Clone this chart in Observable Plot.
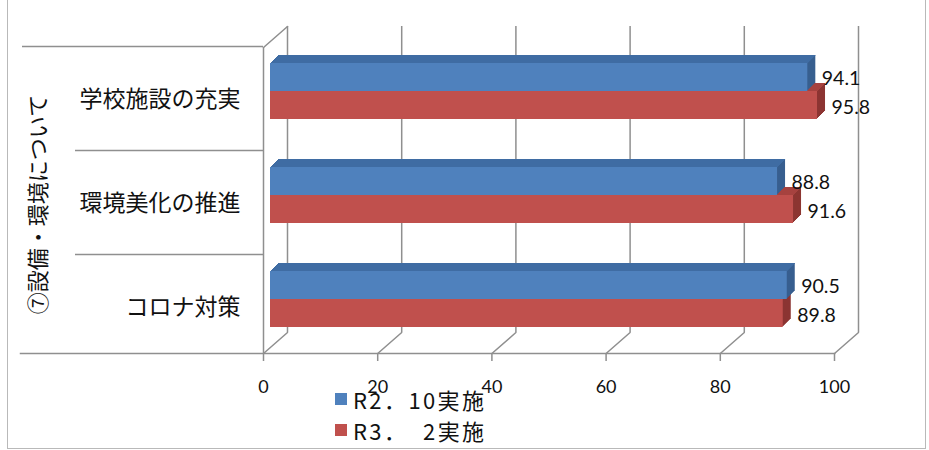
<!DOCTYPE html>
<html><head><meta charset="utf-8">
<script src="https://cdn.jsdelivr.net/npm/d3@7"></script>
<script src="https://cdn.jsdelivr.net/npm/@observablehq/plot@0.6"></script>
<style>
body{margin:0;background:#fff;}
#wrap{position:relative;width:929px;height:450px;overflow:hidden;}
#border{position:absolute;left:7px;top:-3px;width:919px;height:452px;border:1.5px solid #b9b9b9;border-top:none;box-sizing:border-box;pointer-events:none;}
#legend{position:absolute;left:335px;top:383px;font-family:"Noto Sans CJK JP";font-size:22px;color:#111;letter-spacing:2.4px;}
.row{display:flex;align-items:center;height:31px;white-space:pre;}
.sw{width:12px;height:12px;margin-right:6px;flex:none;}
</style></head>
<body><div id="wrap"><div id="chart"></div><div id="border"></div><div id="legend"></div></div>
<script>
const categories = ["学校施設の充実", "環境美化の推進", "コロナ対策"];
const seriesNames = ["R2．10実施", "R3．  2実施"];
const r2Values = [94.1, 88.8, 90.5];
const r3Values = [95.8, 91.6, 89.8];
const xTicks = [0, 20, 40, 60, 80, 100];
const axisTitle = "⑦設備・環境について";

const colors = {
  blue: {front: "#4f81bd", top: "#3f6ca3", side: "#385f8f"},
  red: {front: "#c0504d", top: "#a6423f", side: "#8c3532"}
};
const gridColor = "#8f8f8f";
const depth = 8;
const barShift = 7;
const band = 104;

const blueRows = categories.map((c, i) => ({cat: c, value: r2Values[i]}));
const redRows = categories.map((c, i) => ({cat: c, value: r3Values[i]}));

function box(rows, col, insetTop, insetBottom) {
  const marks = [];
  for (let k = depth; k >= 1; k--) {
    marks.push(Plot.barX(rows, {x: "value", y: "cat", fill: col.side, insetTop, insetBottom, dx: barShift + k, dy: -k}));
  }
  for (let k = 1; k <= depth; k++) {
    marks.push(Plot.barX(rows, {x: "value", y: "cat", fill: col.top, insetTop, insetBottom: band - insetTop - 1, dx: barShift + k, dy: -k}));
  }
  marks.push(Plot.barX(rows, {x: "value", y: "cat", fill: col.front, insetTop, insetBottom, dx: barShift}));
  return marks;
}

const lineShape = {draw(context, l) { context.moveTo(0, 0); context.lineTo(0, -l); }};
const diag = {length: Math.hypot(24, 21), rotate: Math.atan2(24, 21) * 180 / Math.PI, anchor: "start", shape: lineShape, stroke: gridColor, strokeWidth: 1.5, fill: "none"};

const chart = Plot.plot({
  width: 929, height: 450,
  marginLeft: 20, marginRight: 95, marginTop: 47, marginBottom: 97,
  x: {domain: [0, 100], range: [263, 834]},
  y: {type: "band", domain: categories, range: [45, 357], padding: 0, axis: null},
  style: {background: "transparent", overflow: "visible"},
  marks: [
    // back wall gridlines
    Plot.ruleX(xTicks, {x: d => d, stroke: gridColor, strokeWidth: 1.5, dx: 24, dy: -21}),
    // floor diagonals
    Plot.vector(xTicks, {x: d => d, frameAnchor: "bottom", ...diag}),
    Plot.vector([0], {x: d => d, frameAnchor: "top", ...diag}),
    // front left axis
    Plot.ruleX([0], {x: d => d, stroke: gridColor, strokeWidth: 1.5}),
    // bottom front line
    Plot.frame({anchor: "bottom", stroke: gridColor, strokeWidth: 1.5}),
    // category separators
    Plot.ruleY([categories[0]], {y: d => d, dy: -51, x1: 0, x2: 0, insetLeft: -241, stroke: gridColor, strokeWidth: 1.5}),
    Plot.ruleY(categories.slice(1), {y: d => d, dy: -51, x1: 0, x2: 0, insetLeft: -188, stroke: gridColor, strokeWidth: 1.5}),
    Plot.axisX(xTicks, {tickSize: 8, tickPadding: 19, fontSize: 18, fontFamily: "Lato", stroke: gridColor, strokeWidth: 1.5, fill: "#111", label: null}),
    // bars: red (lower) first, then blue
    ...box(redRows, colors.red, 46, 30),
    ...box(blueRows, colors.blue, 18, 58),
    // value labels
    Plot.text(blueRows, {x: "value", y: "cat", text: d => d.value.toFixed(1), dx: 21, dy: -19, textAnchor: "start", fontSize: 19.5, fontFamily: "Lato", fill: "#111"}),
    Plot.text(redRows, {x: "value", y: "cat", text: d => d.value.toFixed(1), dx: 21, dy: 10, textAnchor: "start", fontSize: 19.5, fontFamily: "Lato", fill: "#111"}),
    // category labels
    Plot.text(categories, {x: () => 0, y: d => d, text: d => d, dx: -23, dy: 2, textAnchor: "end", fontSize: 23, fontFamily: "Noto Sans CJK JP", fill: "#111"}),
    // rotated axis title
    Plot.text([axisTitle], {frameAnchor: "left", text: d => d, dx: 18, dy: 4, textAnchor: "middle", rotate: -90, fontSize: 22, fontFamily: "Noto Sans CJK JP", fill: "#111"})
  ]
});
document.getElementById("chart").appendChild(chart);

const legend = document.getElementById("legend");
[colors.blue.front, colors.red.front].forEach((c, i) => {
  const row = document.createElement("div");
  row.className = "row";
  const sw = document.createElement("span");
  sw.className = "sw";
  sw.style.background = c;
  const tx = document.createElement("span");
  tx.textContent = seriesNames[i];
  row.appendChild(sw); row.appendChild(tx);
  legend.appendChild(row);
});
</script>
</body></html>
